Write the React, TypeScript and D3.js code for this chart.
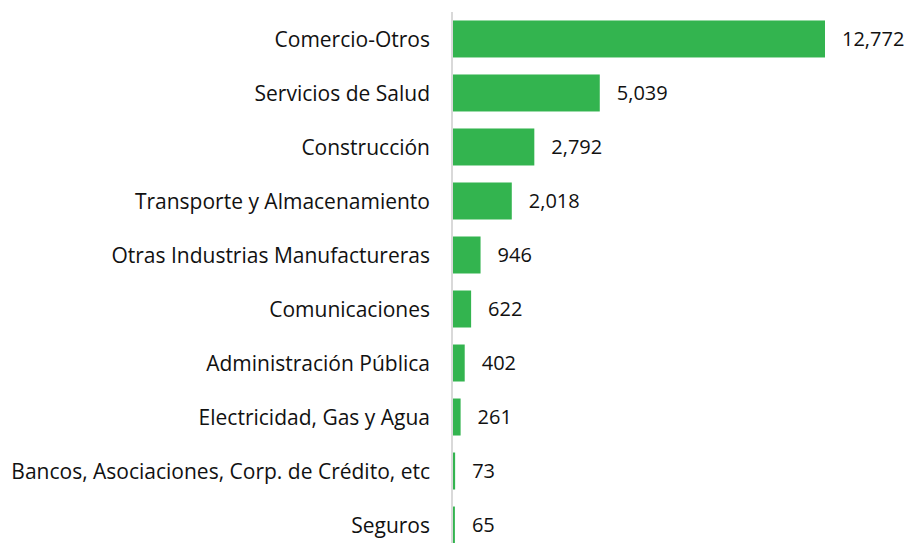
import React from "react";
import * as d3 from "d3";

const categories = [
  "Comercio-Otros",
  "Servicios de Salud",
  "Construcción",
  "Transporte y Almacenamiento",
  "Otras Industrias Manufactureras",
  "Comunicaciones",
  "Administración Pública",
  "Electricidad, Gas y Agua",
  "Bancos, Asociaciones, Corp. de Crédito, etc",
  "Seguros",
];
const values = [12772, 5039, 2792, 2018, 946, 622, 402, 261, 73, 65];

const W = 909;
const H = 543;
const axisX = 453;

export default function App() {
  const x = d3.scaleLinear().domain([0, 12772]).range([0, 372]);
  const y = d3
    .scaleBand<string>()
    .domain(categories)
    .range([12, 552])
    .paddingInner(0.315)
    .paddingOuter(0.157);
  const fmt = d3.format(",");
  const font = "'Open Sans', sans-serif";
  return (
    <svg
      width={W}
      height={H}
      style={{ position: "absolute", left: 0, top: 0, background: "#fff" }}
    >
      <line x1={axisX - 1} x2={axisX - 1} y1={12} y2={H} stroke="#d9d9d9" strokeWidth={2} />
      {categories.map((c, i) => {
        const yy = y(c)!;
        const bw = y.bandwidth();
        const w = x(values[i]);
        return (
          <g key={c}>
            <rect x={axisX} y={yy} width={w} height={bw} fill="#33b44f" />
            <text
              x={430}
              y={yy + bw / 2}
              dy="0.36em"
              textAnchor="end"
              fontFamily={font}
              fontSize={21}
              fill="#111"
            >
              {c}
            </text>
            <text
              x={axisX + w + 17}
              y={yy + bw / 2}
              dy="0.36em"
              fontFamily={font}
              fontSize={20}
              fill="#111"
            >
              {fmt(values[i])}
            </text>
          </g>
        );
      })}
    </svg>
  );
}
